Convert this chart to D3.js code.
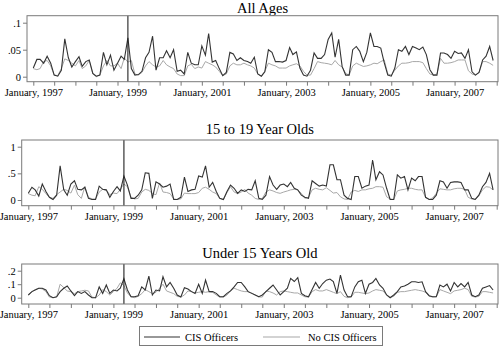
<!DOCTYPE html>
<html>
<head>
<meta charset="utf-8">
<script src="https://cdn.jsdelivr.net/npm/d3@7"></script>
<style>
  body { margin: 0; background: #fff; }
  svg { display: block; }
  text { font-family: "Liberation Serif", "Times New Roman", serif; fill: #000; }
</style>
</head>
<body>
<svg id="chart" width="500" height="347"></svg>
<script>
// monthly series, Jan 1997 .. Dec 2007
const START_YEAR = 1997;
const N_MONTHS = 132;
const LABEL_YEARS = [1997, 1999, 2001, 2003, 2005, 2007];
const CUTOFF_MONTH = 27; // April 1999
const SERIES_NAMES = ['CIS Officers', 'No CIS Officers'];

const allCis = [
  0.016, 0.032, 0.032, 0.025, 0.038, 0.025, 0.003, 0.001, 0.012, 0.070,
  0.035, 0.018, 0.028, 0.037, 0.019, 0.028, 0.031, 0.006, 0.001, 0.003,
  0.045, 0.022, 0.040, 0.012, 0.025, 0.038, 0.032, 0.072, 0.015, 0.003,
  0.004, 0.010, 0.035, 0.045, 0.075, 0.012, 0.035, 0.035, 0.048, 0.035,
  0.050, 0.010, 0.012, 0.005, 0.045, 0.025, 0.022, 0.022, 0.057, 0.040,
  0.080, 0.027, 0.030, 0.015, 0.002, 0.008, 0.045, 0.042, 0.030, 0.035,
  0.030, 0.028, 0.025, 0.036, 0.005, 0.001, 0.009, 0.050, 0.045, 0.028,
  0.028, 0.027, 0.030, 0.054, 0.041, 0.046, 0.016, 0.003, 0.001, 0.012,
  0.044, 0.034, 0.034, 0.041, 0.069, 0.081, 0.036, 0.069, 0.019, 0.003,
  0.003, 0.050, 0.056, 0.047, 0.028, 0.045, 0.081, 0.056, 0.056, 0.053,
  0.026, 0.003, 0.001, 0.016, 0.050, 0.047, 0.056, 0.041, 0.056, 0.053,
  0.050, 0.055, 0.041, 0.013, 0.003, 0.003, 0.044, 0.044, 0.041, 0.034,
  0.047, 0.043, 0.044, 0.034, 0.050, 0.009, 0.003, 0.008, 0.031, 0.038,
  0.056, 0.030
];
const allNoCis = [
  0.015, 0.013, 0.015, 0.028, 0.030, 0.020, 0.003, 0.002, 0.015, 0.033,
  0.030, 0.025, 0.020, 0.030, 0.015, 0.020, 0.030, 0.005, 0.000, 0.003,
  0.020, 0.030, 0.020, 0.020, 0.025, 0.015, 0.035, 0.027, 0.030, 0.005,
  0.003, 0.008, 0.020, 0.028, 0.022, 0.018, 0.020, 0.030, 0.022, 0.018,
  0.015, 0.005, 0.002, 0.002, 0.020, 0.023, 0.015, 0.018, 0.016, 0.028,
  0.025, 0.022, 0.018, 0.010, 0.002, 0.005, 0.020, 0.025, 0.022, 0.022,
  0.025, 0.022, 0.020, 0.016, 0.005, 0.001, 0.010, 0.025, 0.022, 0.020,
  0.016, 0.016, 0.016, 0.020, 0.022, 0.024, 0.020, 0.010, 0.003, 0.003,
  0.015, 0.028, 0.026, 0.025, 0.024, 0.022, 0.030, 0.022, 0.018, 0.006,
  0.003, 0.020, 0.025, 0.022, 0.019, 0.020, 0.022, 0.025, 0.024, 0.028,
  0.031, 0.005, 0.003, 0.012, 0.020, 0.025, 0.025, 0.026, 0.028, 0.028,
  0.028, 0.026, 0.015, 0.005, 0.003, 0.005, 0.034, 0.025, 0.025, 0.026,
  0.028, 0.031, 0.031, 0.031, 0.011, 0.005, 0.003, 0.008, 0.028, 0.028,
  0.025, 0.021
];

const teenCis = [
  0.125, 0.24, 0.19, 0.075, 0.30, 0.16, 0.05, 0.01, 0.09, 0.64,
  0.19, 0.09, 0.30, 0.36, 0.20, 0.19, 0.24, 0.03, 0.01, 0.01,
  0.26, 0.20, 0.19, 0.05, 0.16, 0.25, 0.17, 0.45, 0.28, 0.03,
  0.03, 0.09, 0.19, 0.51, 0.50, 0.03, 0.34, 0.30, 0.24, 0.26,
  0.30, 0.01, 0.01, 0.05, 0.43, 0.16, 0.19, 0.20, 0.45, 0.43,
  0.64, 0.24, 0.33, 0.16, 0.03, 0.01, 0.16, 0.28, 0.22, 0.125,
  0.19, 0.16, 0.20, 0.19, 0.36, 0.03, 0.01, 0.09, 0.44, 0.28,
  0.20, 0.28, 0.30, 0.25, 0.33, 0.22, 0.19, 0.09, 0.05, 0.03,
  0.36, 0.31, 0.26, 0.28, 0.26, 0.66, 0.66, 0.38, 0.38, 0.09,
  0.03, 0.01, 0.44, 0.44, 0.22, 0.26, 0.28, 0.75, 0.38, 0.53,
  0.47, 0.22, 0.01, 0.01, 0.47, 0.41, 0.44, 0.19, 0.41, 0.36,
  0.44, 0.44, 0.05, 0.01, 0.01, 0.09, 0.36, 0.34, 0.22, 0.33,
  0.34, 0.34, 0.33, 0.19, 0.19, 0.03, 0.01, 0.09, 0.25, 0.33,
  0.50, 0.19
];
const teenNoCis = [
  0.12, 0.09, 0.08, 0.25, 0.20, 0.12, 0.05, 0.03, 0.10, 0.15,
  0.20, 0.18, 0.13, 0.28, 0.10, 0.03, 0.25, 0.05, 0.02, 0.02,
  0.15, 0.20, 0.18, 0.10, 0.13, 0.12, 0.20, 0.30, 0.25, 0.05,
  0.02, 0.03, 0.15, 0.20, 0.18, 0.12, 0.10, 0.32, 0.15, 0.14,
  0.12, 0.02, 0.01, 0.02, 0.13, 0.12, 0.12, 0.12, 0.14, 0.22,
  0.24, 0.20, 0.15, 0.12, 0.03, 0.01, 0.14, 0.25, 0.15, 0.12,
  0.15, 0.20, 0.13, 0.09, 0.03, 0.01, 0.03, 0.15, 0.19, 0.17,
  0.14, 0.125, 0.15, 0.17, 0.19, 0.20, 0.19, 0.125, 0.03, 0.05,
  0.19, 0.22, 0.20, 0.19, 0.23, 0.18, 0.13, 0.14, 0.06, 0.02,
  0.01, 0.15, 0.18, 0.16, 0.19, 0.19, 0.21, 0.22, 0.25, 0.25,
  0.24, 0.06, 0.02, 0.01, 0.17, 0.19, 0.20, 0.22, 0.22, 0.20,
  0.19, 0.19, 0.05, 0.01, 0.04, 0.125, 0.21, 0.20, 0.19, 0.19,
  0.21, 0.22, 0.22, 0.20, 0.05, 0.02, 0.01, 0.08, 0.19, 0.25,
  0.24, 0.19
];

const under15Cis = [
  0.020, 0.045, 0.057, 0.070, 0.070, 0.057, 0.015, 0.000, 0.007, 0.045,
  0.070, 0.087, 0.050, 0.015, 0.045, 0.032, 0.045, 0.020, 0.000, 0.000,
  0.080, 0.032, 0.094, 0.032, 0.057, 0.050, 0.070, 0.140, 0.057, 0.007,
  0.007, 0.015, 0.080, 0.057, 0.160, 0.020, 0.057, 0.050, 0.155, 0.080,
  0.113, 0.070, 0.020, 0.005, 0.074, 0.064, 0.045, 0.032, 0.100, 0.032,
  0.130, 0.045, 0.045, 0.032, 0.007, 0.007, 0.032, 0.050, 0.080, 0.113,
  0.113, 0.080, 0.045, 0.032, 0.020, 0.007, 0.020, 0.045, 0.070, 0.094,
  0.057, 0.020, 0.045, 0.070, 0.143, 0.120, 0.148, 0.032, 0.015, 0.007,
  0.060, 0.113, 0.070, 0.105, 0.130, 0.138, 0.120, 0.032, 0.168, 0.057,
  0.007, 0.007, 0.080, 0.118, 0.130, 0.032, 0.100, 0.113, 0.143, 0.094,
  0.070, 0.020, 0.000, 0.020, 0.045, 0.080, 0.087, 0.100, 0.118, 0.118,
  0.113, 0.118, 0.045, 0.015, 0.007, 0.007, 0.094, 0.080, 0.100, 0.050,
  0.113, 0.080, 0.105, 0.080, 0.113, 0.020, 0.007, 0.020, 0.070, 0.080,
  0.090, 0.057
];
const under15NoCis = [
  0.020, 0.045, 0.060, 0.070, 0.065, 0.045, 0.005, 0.000, 0.005, 0.100,
  0.075, 0.050, 0.045, 0.030, 0.045, 0.050, 0.055, 0.050, 0.005, 0.000,
  0.020, 0.060, 0.045, 0.020, 0.045, 0.070, 0.110, 0.090, 0.035, 0.007,
  0.000, 0.010, 0.030, 0.060, 0.045, 0.030, 0.040, 0.070, 0.100, 0.050,
  0.040, 0.030, 0.010, 0.005, 0.020, 0.050, 0.045, 0.035, 0.040, 0.045,
  0.040, 0.045, 0.040, 0.020, 0.005, 0.005, 0.020, 0.050, 0.070, 0.060,
  0.050, 0.045, 0.045, 0.035, 0.020, 0.005, 0.005, 0.050, 0.045, 0.035,
  0.020, 0.045, 0.050, 0.045, 0.040, 0.035, 0.035, 0.020, 0.007, 0.005,
  0.045, 0.060, 0.050, 0.050, 0.060, 0.050, 0.040, 0.030, 0.045, 0.010,
  0.000, 0.005, 0.040, 0.040, 0.035, 0.030, 0.035, 0.050, 0.060, 0.055,
  0.050, 0.020, 0.003, 0.010, 0.040, 0.045, 0.045, 0.050, 0.055, 0.060,
  0.055, 0.050, 0.040, 0.010, 0.005, 0.007, 0.060, 0.050, 0.040, 0.030,
  0.050, 0.055, 0.060, 0.070, 0.060, 0.010, 0.005, 0.010, 0.045, 0.045,
  0.040, 0.035
];

const svg = d3.select('#chart');
const DARK = '#333';
const LIGHT = '#a8a8a8';
const BOX = '#7a7a7a';

const months = d3.range(N_MONTHS).map(m => new Date(START_YEAR, m, 1));

const panels = [
  { title: 'All Ages', cis: allCis, noCis: allNoCis, yTicks: [0, 0.05, 0.1],
    box: [27, 498, 15.7, 81.7], xRange: [33.3, 496.7], yDomain: [0, 0.1], yRange: [76.7, 22.7], titleY: 12.5 },
  { title: '15 to 19 Year Olds', cis: teenCis, noCis: teenNoCis, yTicks: [0, 0.5, 1],
    box: [21.7, 498, 140, 205.7], xRange: [28.3, 496.7], yDomain: [0, 1], yRange: [200, 146.7], titleY: 133.5 },
  { title: 'Under 15 Years Old', cis: under15Cis, noCis: under15NoCis, yTicks: [0, 0.1, 0.2],
    box: [21.7, 498, 264, 304], xRange: [28.3, 496.7], yDomain: [0, 0.2], yRange: [297.7, 270.7], titleY: 257.5 }
];

const fmtY = v => v === 0 ? '0' : String(v).replace(/^0/, '');
const fmtX = d3.timeFormat('%B, %Y');

panels.forEach(p => {
  const [bx0, bx1, by0, by1] = p.box;
  const x = d3.scaleTime()
    .domain([new Date(START_YEAR, 0, 1), new Date(START_YEAR, N_MONTHS, 1)])
    .range(p.xRange);
  const y = d3.scaleLinear().domain(p.yDomain).range(p.yRange);
  const g = svg.append('g');

  g.append('text')
    .attr('x', (bx0 + bx1) / 2).attr('y', p.titleY)
    .attr('text-anchor', 'middle').attr('font-size', 14.5)
    .text(p.title);

  // x axis: ticks every 6 months, labels every other January
  const xAxis = d3.axisBottom(x)
    .tickValues(d3.timeMonth.every(6).range(new Date(START_YEAR, 0, 1), new Date(START_YEAR, N_MONTHS, 2)))
    .tickSize(4).tickPadding(3)
    .tickFormat(d => d.getMonth() === 0 && LABEL_YEARS.includes(d.getFullYear()) ? fmtX(d) : '');
  const gx = g.append('g').attr('transform', `translate(0,${by1})`).call(xAxis);
  gx.select('.domain').remove();
  gx.selectAll('line').attr('stroke', BOX);
  gx.selectAll('text').attr('font-size', 10.5).attr('font-family', '"Liberation Serif", serif').attr('fill', '#000');

  const yAxis = d3.axisLeft(y).tickValues(p.yTicks).tickSize(4).tickPadding(2).tickFormat(fmtY);
  const gy = g.append('g').attr('transform', `translate(${bx0},0)`).call(yAxis);
  gy.select('.domain').remove();
  gy.selectAll('line').attr('stroke', BOX);
  gy.selectAll('text').attr('font-size', 10.5).attr('font-family', '"Liberation Serif", serif').attr('fill', '#000');

  const line = d3.line().x((d, i) => x(months[i])).y(d => y(d));
  g.append('path').datum(p.noCis).attr('d', line)
    .attr('fill', 'none').attr('stroke', LIGHT).attr('stroke-width', 1);
  g.append('path').datum(p.cis).attr('d', line)
    .attr('fill', 'none').attr('stroke', DARK).attr('stroke-width', 1.1);

  const cx = x(months[CUTOFF_MONTH]);
  g.append('line').attr('x1', cx).attr('x2', cx).attr('y1', by0).attr('y2', by1)
    .attr('stroke', '#222').attr('stroke-width', 1.1);

  g.append('rect').attr('x', bx0).attr('y', by0).attr('width', bx1 - bx0).attr('height', by1 - by0)
    .attr('fill', 'none').attr('stroke', BOX).attr('stroke-width', 1);
});

// legend
const lg = svg.append('g');
lg.append('rect').attr('x', 139.5).attr('y', 326.5).attr('width', 243).attr('height', 19)
  .attr('fill', '#fff').attr('stroke', BOX);
const legendItems = [
  { name: SERIES_NAMES[0], color: DARK, x0: 144, x1: 180, tx: 185 },
  { name: SERIES_NAMES[1], color: LIGHT, x0: 263, x1: 300, tx: 308 }
];
legendItems.forEach(it => {
  lg.append('line').attr('x1', it.x0).attr('x2', it.x1).attr('y1', 337).attr('y2', 337)
    .attr('stroke', it.color).attr('stroke-width', 1.1);
  lg.append('text').attr('x', it.tx).attr('y', 340.5).attr('font-size', 10.5).text(it.name);
});
</script>
</body>
</html>
